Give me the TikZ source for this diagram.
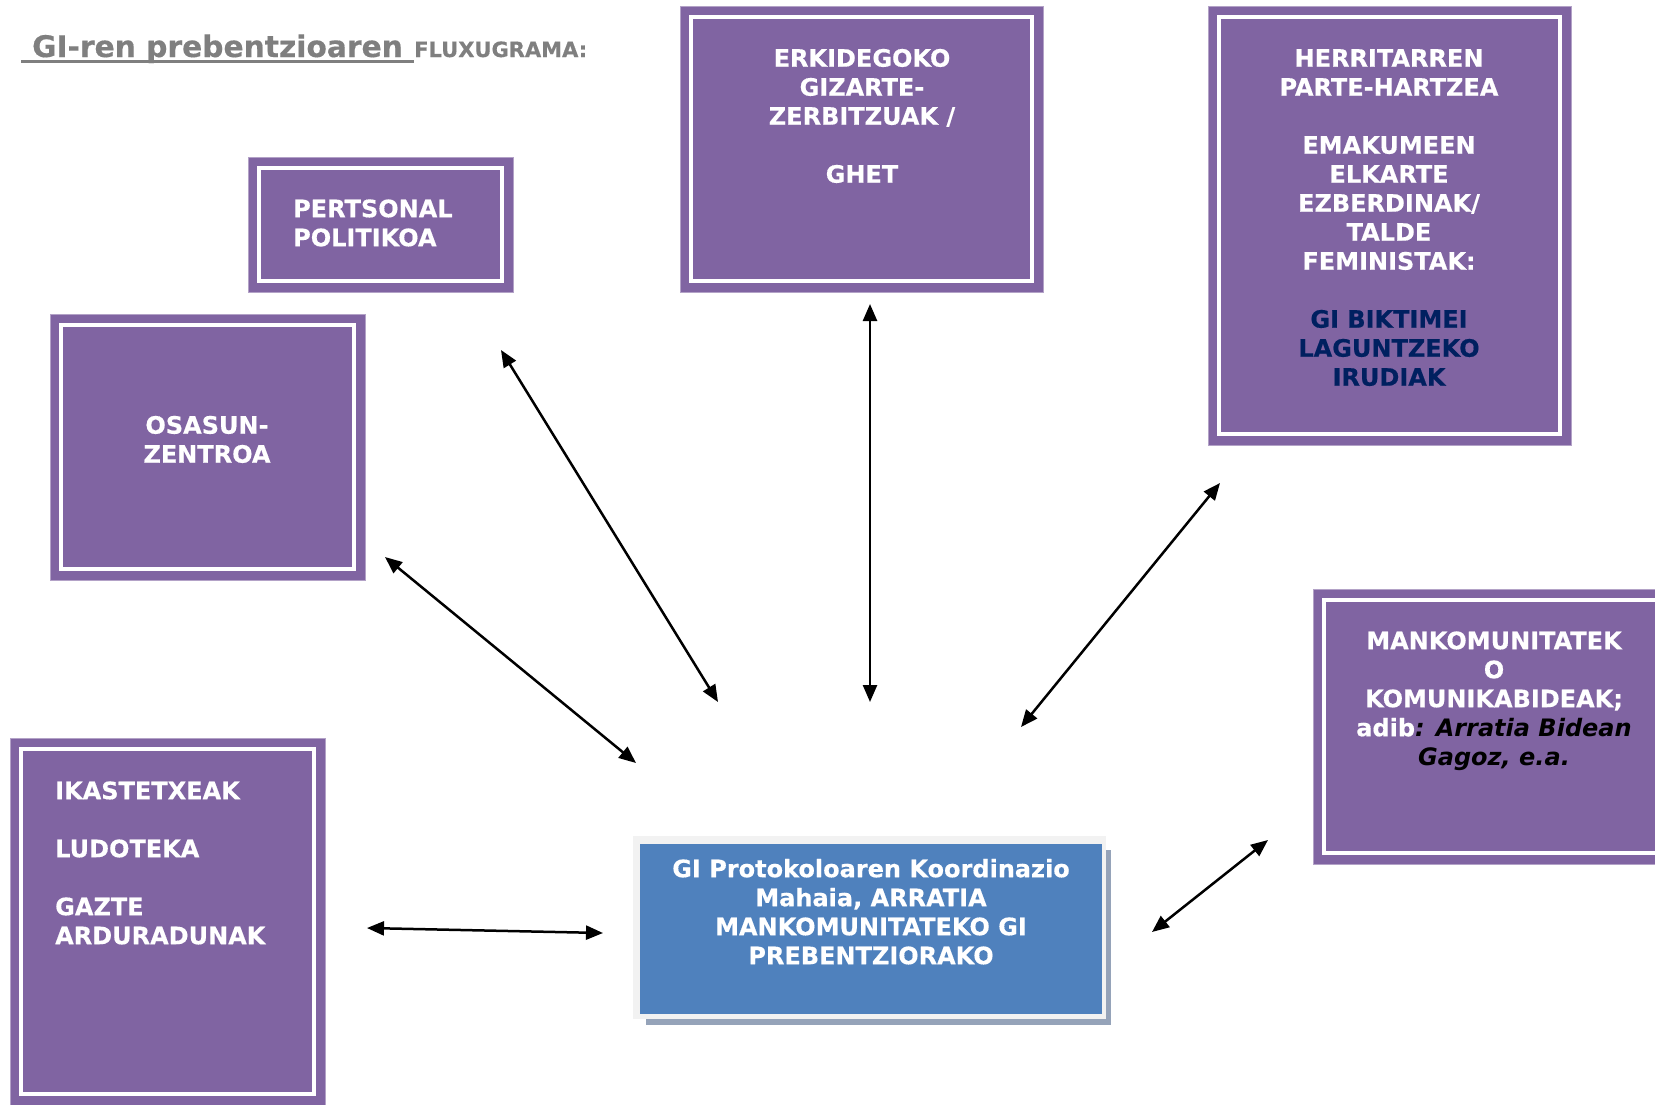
\documentclass[tikz,border=0pt]{standalone}
\usepackage{fontspec}
\setmainfont[BoldFeatures={FakeBold=0.4}]{DejaVu Sans}
\usetikzlibrary{arrows.meta}
\definecolor{boxpurple}{HTML}{8064A2}
\definecolor{boxedge}{HTML}{B3A2C7}
\definecolor{boxblue}{HTML}{4F81BD}
\definecolor{navytxt}{HTML}{002060}
\definecolor{titlegrey}{HTML}{7F7F7F}
\definecolor{framegrey}{HTML}{F2F2F2}
\definecolor{shadowgrey}{HTML}{95A3B9}
\begin{document}
\begin{tikzpicture}[x=1pt,y=1pt,
  pbox/.style={draw=boxedge, line width=1, fill=boxpurple, anchor=north west, inner sep=0, outer sep=0},
  wline/.style={draw=white, line width=4},
  btxt/.style={text=white, inner sep=0, font=\bfseries\fontsize{24}{29}\selectfont},
  link/.style={line width=2.5, {Triangle[length=17pt,width=14pt]}-{Triangle[length=17pt,width=14pt]}}
]
\useasboundingbox[fill=white] (0,0) rectangle (1655,-1104);

% title
\node[anchor=base west, inner sep=0, text=titlegrey, font=\bfseries\fontsize{29.7}{34}\selectfont] (title) at (21,-57) {\hspace*{11pt}GI-ren prebentzioaren\hspace*{11pt}};
\node[anchor=base west, inner sep=0, text=titlegrey, font=\bfseries\fontsize{21}{24}\selectfont] (flux) at (title.base east) {FLUXUGRAMA:};
\draw[titlegrey, line width=3] ([yshift=-4]title.base west) -- ([yshift=-4]title.base east);

% purple boxes
\node[pbox, minimum width=265, minimum height=135] (pers) at (248,-157) {};
\node[pbox, minimum width=363, minimum height=286] (erk) at (680,-6) {};
\node[pbox, minimum width=363, minimum height=439] (herr) at (1208,-6) {};
\node[pbox, minimum width=315, minimum height=266] (osa) at (50,-314) {};
\node[pbox, minimum width=315, minimum height=367] (ikas) at (10,-738) {};
\node[pbox, minimum width=370, minimum height=275] (mank) at (1313,-589) {};
\foreach \b in {pers,erk,herr,osa,ikas,mank}
  \draw[wline] ([shift={(11,-11)}]\b.north west) rectangle ([shift={(-11,11)}]\b.south east);

% central box
\fill[shadowgrey] (646,-850) rectangle (1111,-1025);
\node[fill=framegrey, anchor=north west, inner sep=0, outer sep=0, minimum width=473, minimum height=183] (frame) at (633,-836) {};
\node[fill=boxblue, anchor=north west, inner sep=0, outer sep=0, minimum width=462, minimum height=170] (mahaia) at (640,-844) {};

% texts
\node[btxt, anchor=north west, align=left] (persT) at (293,-197) {\rule{0pt}{20pt}PERTSONAL\\POLITIKOA};
\node[btxt, anchor=north, align=center] (erkT) at (862,-46.5) {\rule{0pt}{20pt}ERKIDEGOKO\\GIZARTE-\\ZERBITZUAK /\\[29pt]GHET};
\node[btxt, anchor=north, align=center] (herrT) at (1389,-46.5) {\rule{0pt}{20pt}HERRITARREN\\PARTE-HARTZEA\\[29pt]EMAKUMEEN\\ELKARTE\\EZBERDINAK/\\TALDE\\FEMINISTAK:\\[29pt]{\color{navytxt}GI BIKTIMEI}\\{\color{navytxt}LAGUNTZEKO}\\{\color{navytxt}IRUDIAK}};
\node[btxt, anchor=north, align=center] (osaT) at (207,-413.5) {\rule{0pt}{20pt}OSASUN-\\ZENTROA};
\node[btxt, anchor=north west, align=left] (ikasT) at (55,-779) {\rule{0pt}{20pt}IKASTETXEAK\\[29pt]LUDOTEKA\\[29pt]GAZTE\\ARDURADUNAK};
\node[btxt, anchor=north, align=center] (mankT) at (1494,-629) {\rule{0pt}{20pt}MANKOMUNITATEK\\O\\KOMUNIKABIDEAK;\\adib{\color{black}\itshape: Arratia Bidean}\\{\color{black}\itshape Gagoz, e.a.}};
\node[btxt, anchor=north, align=center] (mahaiaT) at (871,-857) {\rule{0pt}{20pt}GI Protokoloaren Koordinazio\\Mahaia, ARRATIA\\MANKOMUNITATEKO GI\\PREBENTZIORAKO};

% connectors
\coordinate (p1) at (501,-350);  \coordinate (p2) at (718,-702);
\coordinate (e1) at (870,-304);  \coordinate (e2) at (870,-702);
\coordinate (h1) at (1220,-483); \coordinate (h2) at (1021,-727);
\coordinate (o1) at (385,-557);  \coordinate (o2) at (636,-763);
\coordinate (i1) at (367,-928);  \coordinate (i2) at (603,-933);
\coordinate (m1) at (1268,-840); \coordinate (m2) at (1152,-932);
\draw[link] (p1) -- (p2);
\draw[link] (e1) -- (e2);
\draw[link] (h1) -- (h2);
\draw[link] (o1) -- (o2);
\draw[link] (i1) -- (i2);
\draw[link] (m1) -- (m2);
\end{tikzpicture}
\end{document}
